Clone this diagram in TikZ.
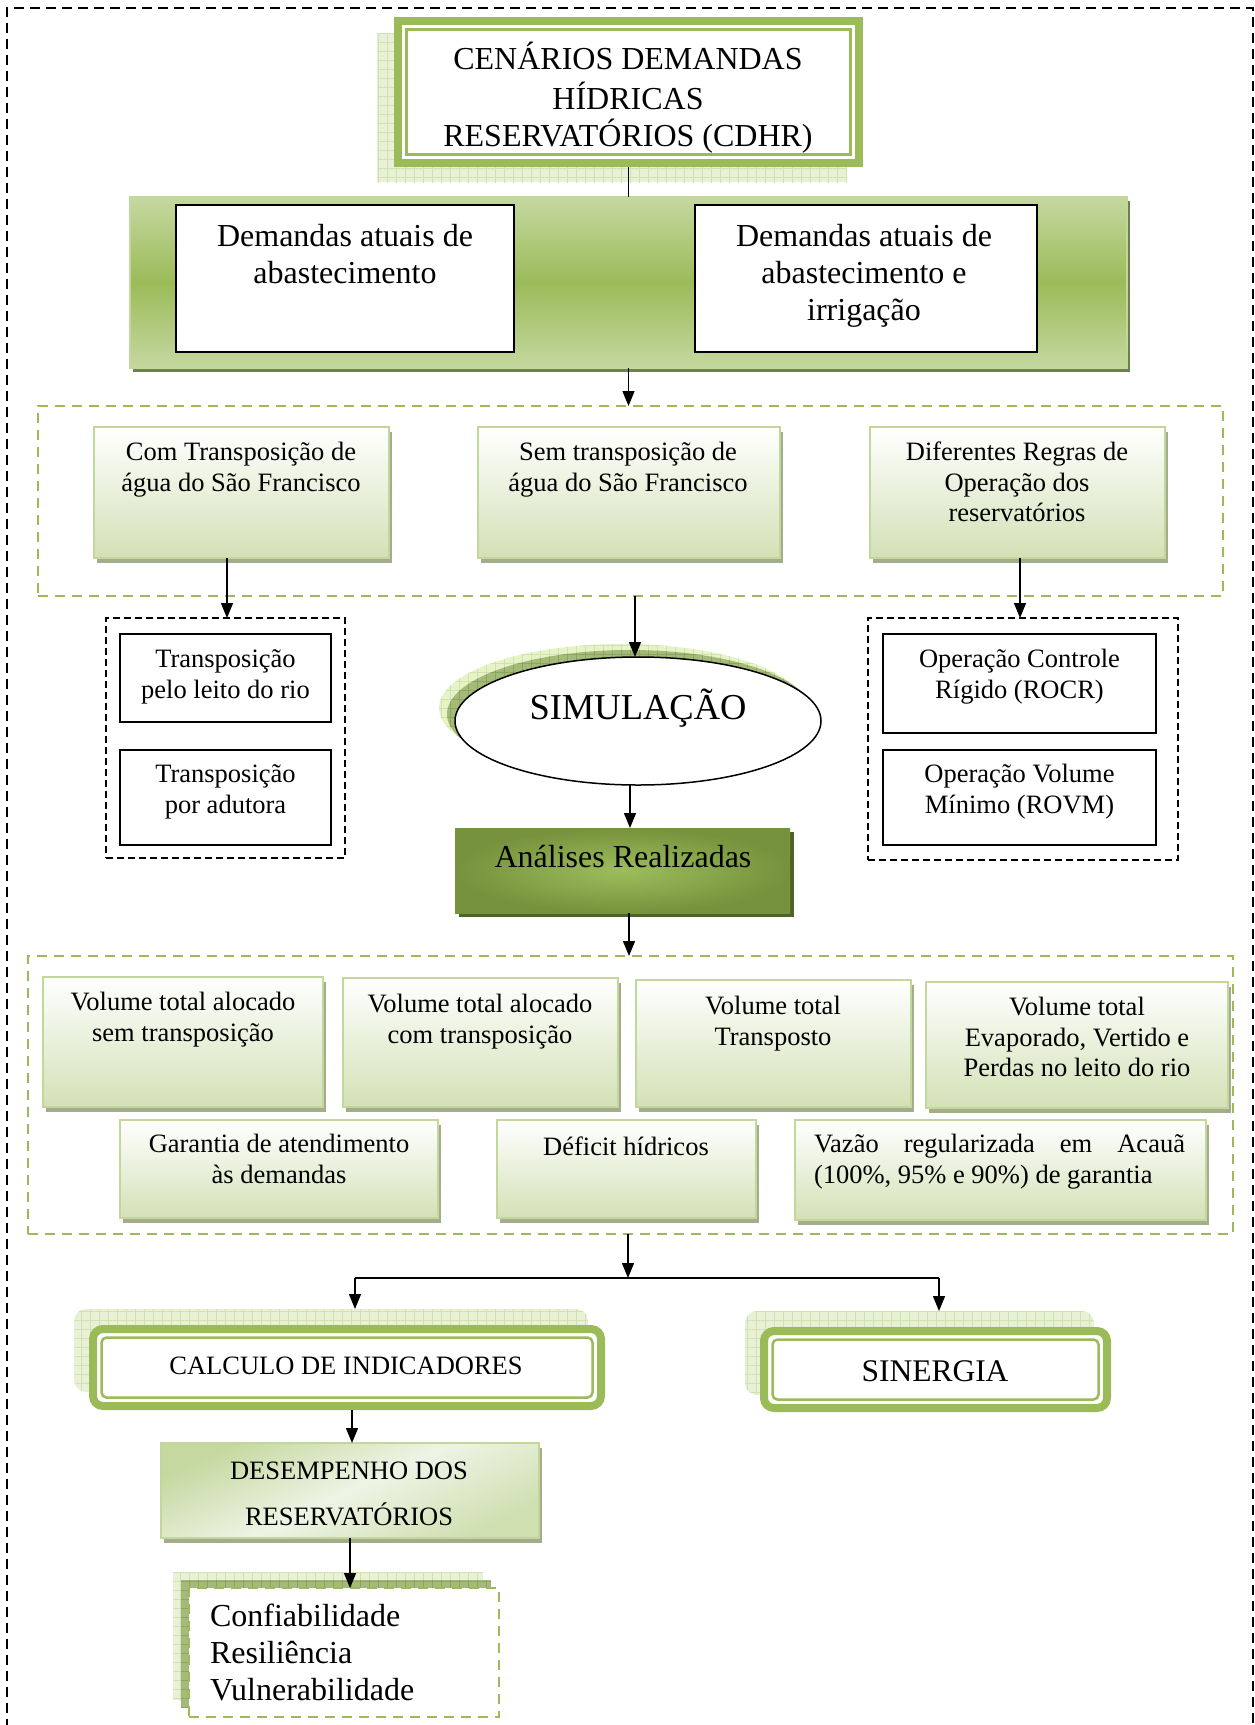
\documentclass[tikz,border=0pt]{standalone}
\usepackage{fontspec}
\setmainfont{Liberation Serif}
\usetikzlibrary{arrows.meta,shadows,patterns.meta,shapes.geometric}
\definecolor{ogreen}{HTML}{9BBB59}
\definecolor{lgreen}{HTML}{C3D69B}
\definecolor{boxbot}{HTML}{D3E1B6}
\definecolor{hatch}{HTML}{A3AC8B}
\definecolor{bandl}{HTML}{C5D8A0}
\definecolor{bandsh}{HTML}{6E7F50}
\definecolor{anaout}{HTML}{76923C}
\definecolor{anain}{HTML}{9DBD5C}
\definecolor{anash}{HTML}{4F6228}
\definecolor{gridl}{HTML}{E8F0D5}
\definecolor{gridline}{HTML}{D2E0B4}
\definecolor{simlight}{HTML}{E6F3C5}
\definecolor{simdark}{HTML}{A4BA78}
\definecolor{darkline}{HTML}{8DA35F}
\definecolor{desa}{HTML}{C5D8A0}
\definecolor{desm}{HTML}{EEF4E5}
\definecolor{desb}{HTML}{CFDFB0}
\newcommand\ftA{\fontsize{32}{37}\selectfont}
\newcommand\ftB{\fontsize{26.5}{30.5}\selectfont}
\newcommand\ftD{\fontsize{26.5}{46}\selectfont}
\newcommand\ftS{\fontsize{36.5}{42}\selectfont}
\newcommand\ftG{\fontsize{31.5}{36}\selectfont}
\newcommand\mkbox[6]{\node[#1, minimum width={#5-#3}, minimum height={#6-#4}] (#2) at ({(#3+#5)/2},{(#4+#6)/2}) {};}
\begin{document}
\begin{tikzpicture}[x=1pt,y=-1pt,
  gbox/.style={draw=lgreen, line width=2.2pt, top color=white, bottom color=boxbot,
    drop shadow={shadow xshift=3pt,shadow yshift=-5pt,fill=hatch,opacity=1},
    inner sep=0pt, outer sep=0pt},
  bbox/.style={draw=black, line width=1.8pt, fill=white, inner sep=0pt, outer sep=0pt},
  bdash/.style={draw=black, line width=1.5pt, dash pattern=on 7pt off 4pt, inner sep=0pt, outer sep=0pt},
  gdash/.style={draw=ogreen, line width=2.5pt, dash pattern=on 10pt off 7pt, inner sep=0pt, outer sep=0pt},
  gridfill/.style 2 args={fill=#1,
    postaction={pattern={Lines[angle=0,distance=9pt,line width=.6pt]}, pattern color=#2},
    postaction={pattern={Lines[angle=90,distance=9pt,line width=.6pt]}, pattern color=#2}},
  tx/.style={anchor=north, inner sep=0pt, outer sep=0pt, align=center},
  arr/.style={draw=black, line width=1.4pt, -{Triangle[length=15pt,width=12pt]}},
  conn/.style={draw=black, line width=1.4pt}]
\useasboundingbox (0,0) rectangle (1254,1725);
% outer frame
\draw[black, line width=2pt, dash pattern=on 10pt off 6pt] (7,1745) -- (7,8) -- (1253,8) -- (1253,1745);

% CDHR
\mkbox{gridfill={gridl}{gridline}, inner sep=0pt}{cdhrsh}{377}{33}{847}{182}
\mkbox{draw=ogreen, line width=8pt, fill=white, inner sep=0pt, outer sep=4pt}{cdhr}{398}{21}{859}{163}
\draw[ogreen, line width=3pt] ([shift={(12.5,12.5)}]cdhr.north west) rectangle ([shift={(-12.5,-12.5)}]cdhr.south east);
\node[tx, font=\ftA] (cdhrt) at (628,42.1) {\strut CENÁRIOS DEMANDAS\\HÍDRICAS\\RESERVATÓRIOS (CDHR)};

% band
\mkbox{draw=lgreen, line width=2pt, top color=bandl, bottom color=bandl, middle color=ogreen,
  drop shadow={shadow xshift=3pt,shadow yshift=-4pt,fill=bandsh,opacity=1}, inner sep=0pt, outer sep=0pt}{band}{130}{197}{1127}{368}
\mkbox{bbox}{deml}{176}{205}{514}{352}
\mkbox{bbox}{demr}{695}{205}{1037}{352}
\node[tx, font=\ftA] (demlt) at (345,221) {\strut Demandas atuais de\\abastecimento};
\node[tx, font=\ftA] (demrt) at (864,221) {\strut Demandas atuais de\\abastecimento e\\irrigação};

% scenarios
\mkbox{gdash}{dash1}{38}{406}{1223}{596}
\mkbox{gbox}{boxa}{94}{427}{389}{558}
\mkbox{gbox}{boxb}{478}{427}{780}{558}
\mkbox{gbox}{boxc}{870}{427}{1165}{558}
\node[tx, font=\ftB] (boxat) at (241,439.6) {\strut Com Transposição de\\água do São Francisco};
\node[tx, font=\ftB] (boxbt) at (628,439.6) {\strut Sem transposição de\\água do São Francisco};
\node[tx, font=\ftB] (boxct) at (1017,439.6) {\strut Diferentes Regras de\\Operação dos\\reservatórios};

% left options
\mkbox{bdash}{tlout}{106}{618}{345}{858}
\mkbox{bbox}{tl1}{120}{634}{331}{722}
\mkbox{bbox}{tl2}{120}{750}{331}{845}
\node[tx, font=\ftB] (tl1t) at (225.5,646.6) {\strut Transposição\\pelo leito do rio};
\node[tx, font=\ftB] (tl2t) at (225.5,761.6) {\strut Transposição\\por adutora};

% right options
\mkbox{bdash}{trout}{868}{618}{1178}{860}
\mkbox{bbox}{tr1}{883}{634}{1156}{733}
\mkbox{bbox}{tr2}{883}{750}{1156}{845}
\node[tx, font=\ftB] (tr1t) at (1019.5,646.6) {\strut Operação Controle\\Rígido (ROCR)};
\node[tx, font=\ftB] (tr2t) at (1019.5,761.6) {\strut Operação Volume\\Mínimo (ROVM)};

% simulation
\node[ellipse, minimum width=366pt, minimum height=128pt, inner sep=0pt, gridfill={simlight}{gridline}] (simsh1) at (622,708) {};
\node[ellipse, minimum width=366pt, minimum height=128pt, inner sep=0pt, gridfill={simdark}{darkline}] (simsh2) at (630,714) {};
\node[ellipse, draw=black, line width=1.5pt, fill=white, minimum width=366pt, minimum height=128pt, inner sep=0pt, outer sep=0pt] (sim) at (638,721) {};
\node[anchor=base, inner sep=0pt, font=\ftS] (simt) at (638,719) {SIMULAÇÃO};

% analyses
\mkbox{inner color=anain, outer color=anaout, drop shadow={shadow xshift=4pt,shadow yshift=-4pt,fill=anash,opacity=1}, inner sep=0pt, outer sep=0pt}{ana}{455}{828}{790}{913}
\node[anchor=base, inner sep=0pt, font=\ftA] (anat) at (623,867) {Análises Realizadas};

% results
\mkbox{gdash}{dash2}{28}{956}{1233}{1234}
\mkbox{gbox}{b1}{43}{977}{323}{1107}
\mkbox{gbox}{b2}{343}{978}{618}{1107}
\mkbox{gbox}{b3}{636}{980}{911}{1107}
\mkbox{gbox}{b4}{926}{982}{1228}{1108}
\mkbox{gbox}{c1}{120}{1120}{438}{1218}
\mkbox{gbox}{c2}{497}{1120}{756}{1218}
\mkbox{gbox}{c3}{795}{1120}{1206}{1220}
\node[tx, font=\ftB] (b1t) at (183,989.6) {\strut Volume total alocado\\sem transposição};
\node[tx, font=\ftB] (b2t) at (480,991.6) {\strut Volume total alocado\\com transposição};
\node[tx, font=\ftB] (b3t) at (773,993.6) {\strut Volume total\\Transposto};
\node[tx, font=\ftB] (b4t) at (1077,994.6) {\strut Volume total\\Evaporado, Vertido e\\Perdas no leito do rio};
\node[tx, font=\ftB] (c1t) at (279,1131.6) {\strut Garantia de atendimento\\às demandas};
\node[anchor=base, inner sep=0pt, font=\ftB] (c2t) at (626,1155) {Déficit hídricos};
\node[anchor=north west, inner sep=0pt, outer sep=0pt, text width=371pt, align=justify, font=\ftB] (c3t) at (814,1131.6) {\strut\hyphenpenalty=10000 Vazão regularizada em Acauã (100\%, 95\% e 90\%) de garantia};

% indicators
\coordinate (j) at (628,1278);
\coordinate (jl) at (355,1278);
\coordinate (jr) at (939,1278);
\mkbox{gridfill={gridl}{gridline}, rounded corners=12pt, inner sep=0pt, outer sep=0pt}{calcsh}{74}{1309}{588}{1392}
\mkbox{draw=ogreen, line width=8pt, fill=white, rounded corners=10pt, inner sep=0pt, outer sep=4pt}{calc}{93}{1329}{601}{1406}
\draw[ogreen, line width=2.5pt, rounded corners=5pt] ([shift={(12.5,12.5)}]calc.north west) rectangle ([shift={(-12.5,-12.5)}]calc.south east);
\node[anchor=base, inner sep=0pt, font=\ftB] (calct) at (346,1374) {CALCULO DE INDICADORES};

\mkbox{gridfill={gridl}{gridline}, rounded corners=12pt, inner sep=0pt, outer sep=0pt}{sinsh}{745}{1311}{1094}{1395}
\mkbox{draw=ogreen, line width=8pt, fill=white, rounded corners=10pt, inner sep=0pt, outer sep=4pt}{sin}{764}{1331}{1107}{1408}
\draw[ogreen, line width=2.5pt, rounded corners=5pt] ([shift={(12.5,12.5)}]sin.north west) rectangle ([shift={(-12.5,-12.5)}]sin.south east);
\node[anchor=base, inner sep=0pt, font=\ftG] (sint) at (935,1381) {SINERGIA};

% performance
\mkbox{draw=lgreen, line width=1.5pt, top color=desa, bottom color=desb, middle color=desm, shading angle=25,
  drop shadow={shadow xshift=3pt,shadow yshift=-5pt,fill=hatch,opacity=1}, inner sep=0pt, outer sep=0pt}{des}{161}{1443}{539}{1538}
\node[tx, font=\ftD] (dest) at (349,1446.8) {\strut DESEMPENHO DOS\\RESERVATÓRIOS};

% final list
\mkbox{gridfill={gridl}{gridline}, inner sep=0pt}{finsh1}{173}{1572}{483}{1700}
\mkbox{gridfill={simdark}{darkline}, inner sep=0pt}{finsh2}{181}{1580}{491}{1708}
\mkbox{gdash, fill=white}{fin}{189}{1588}{499}{1717}
\node[anchor=north west, inner sep=0pt, outer sep=0pt, align=left, font=\ftA] (fint) at (210,1601) {\strut Confiabilidade\\Resiliência\\Vulnerabilidade};

% connectors
\draw[conn] (cdhr.south) -- (band.north);
\draw[arr] (band.south) -- (band.south |- dash1.north);
\draw[arr] (boxa.south -| 227,0) -- (tlout.north -| 227,0);
\draw[arr] (dash1.south -| 635,0) -- (sim.north -| 635,0);
\draw[arr] (boxc.south -| 1020,0) -- (trout.north -| 1020,0);
\draw[arr] (sim.south -| 630,0) -- (ana.north -| 630,0);
\draw[arr] (ana.south -| 629,0) -- (dash2.north -| 629,0);
\draw[arr] (dash2.south -| j) -- (j);
\draw[conn] (jl) -- (jr);
\draw[arr] (jl) -- (calcsh.north -| jl);
\draw[arr] (jr) -- (sinsh.north -| jr);
\draw[arr] (calc.south -| 352,0) -- (des.north -| 352,0);
\draw[arr] (des.south -| 350,0) -- (fin.north -| 350,0);
\end{tikzpicture}
\end{document}
